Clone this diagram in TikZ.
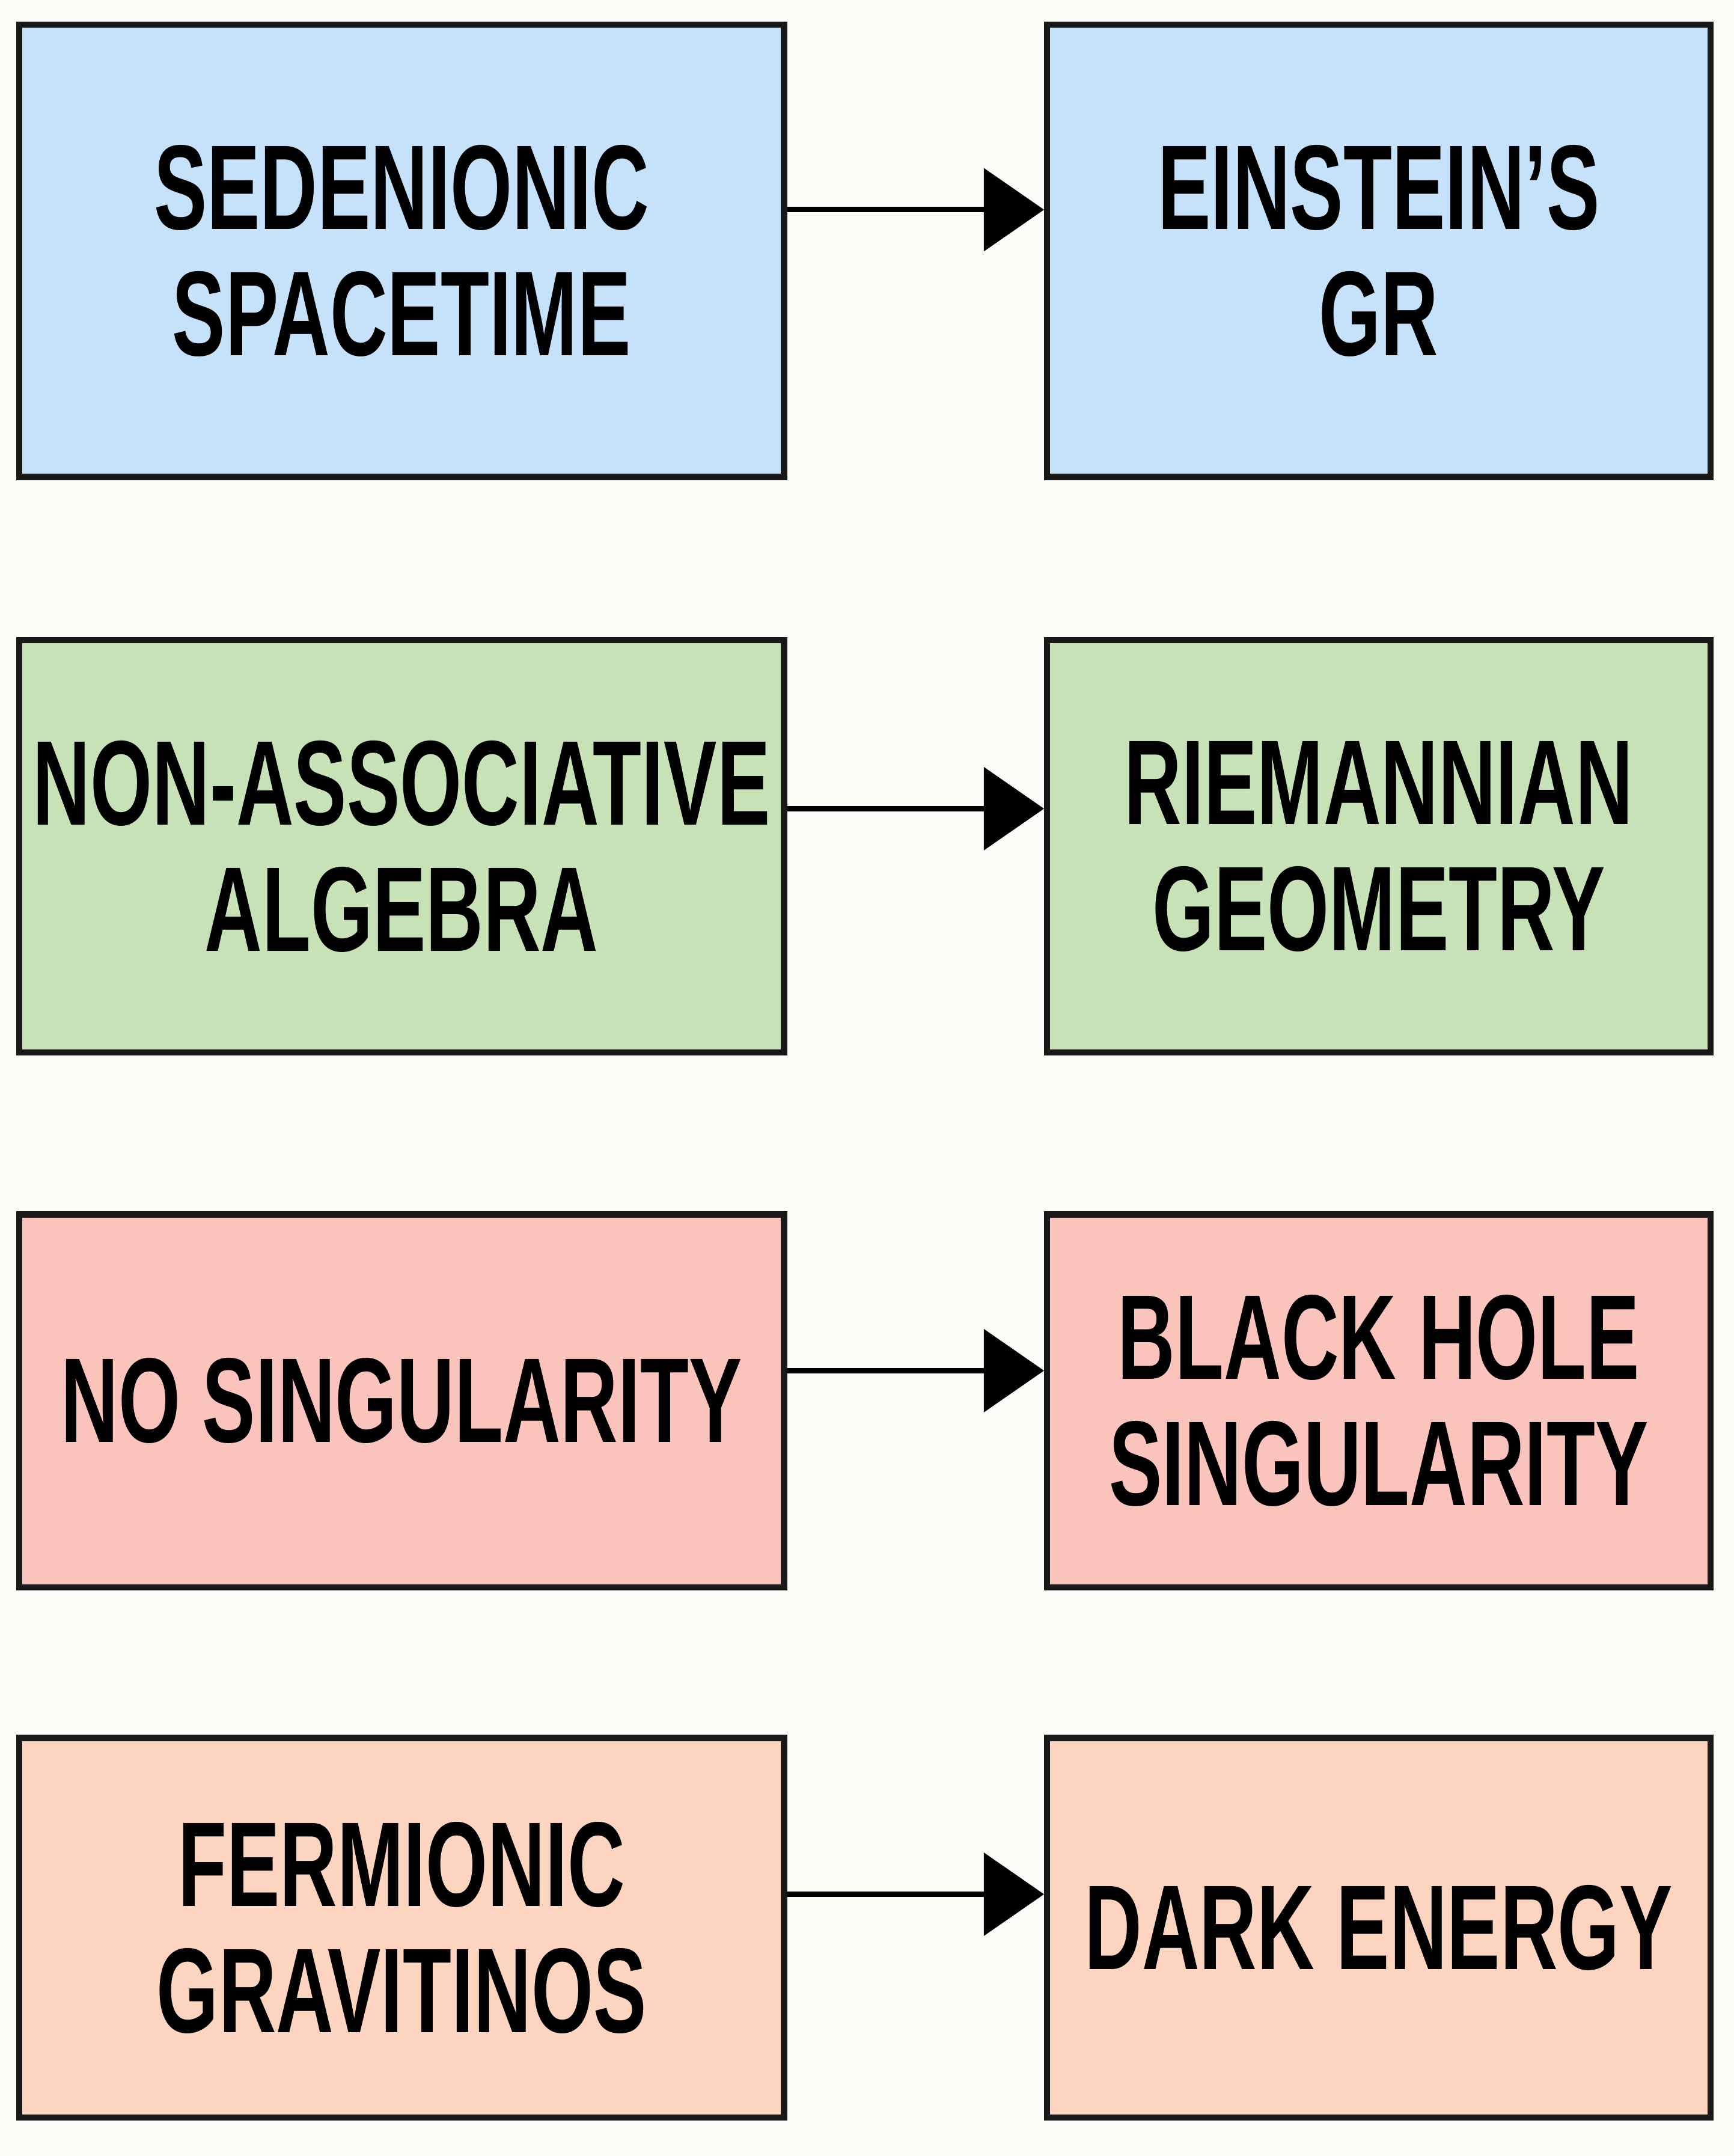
\documentclass[tikz,border=0pt]{standalone}
\usepackage{fontspec}
\setmainfont{Liberation Sans}[FakeStretch=0.66]
\usetikzlibrary{arrows.meta}
\definecolor{bluebox}{HTML}{C6E2FA}
\definecolor{greenbox}{HTML}{C8E2B8}
\definecolor{redbox}{HTML}{FAC4BC}
\definecolor{peachbox}{HTML}{FCD4C0}
\definecolor{paper}{HTML}{FBFBF8}
\tikzset{
  box/.style={draw=black!90, line width=4.5pt, rectangle, align=center,
    font=\fontsize{88}{92}\selectfont\bfseries, inner sep=0pt},
  leftbox/.style={box, minimum width=558pt},
  rightbox/.style={box, minimum width=484pt},
  link/.style={line width=4pt, -{Triangle[length=44pt,width=60pt]}}
}
\begin{document}
\begin{tikzpicture}[x=1pt,y=-1pt]
            \fill[paper] (0,0) rectangle (1265,1573);
            \useasboundingbox (0,0) rectangle (1265,1573);
            % First row
            \node[leftbox, fill=bluebox, minimum height=330pt] (sed) at (293,183) {SEDENIONIC\\SPACETIME};
            \node[rightbox, fill=bluebox, minimum height=330pt] (gr) at (1006,183) {EINSTEIN'S\\GR};
            \draw[link] (sed.east |- 0,153) -- (gr.west |- 0,153);
            % Second row
            \node[leftbox, fill=greenbox, minimum height=301pt] (nonassoc) at (293,617.5) {NON-ASSOCIATIVE\\ALGEBRA};
            \node[rightbox, fill=greenbox, minimum height=301pt] (riem) at (1006,617.5) {RIEMANNIAN\\GEOMETRY};
            \draw[link] (nonassoc.east |- 0,590) -- (riem.west |- 0,590);
            % Third row
            \node[leftbox, fill=redbox, minimum height=272pt] (nosing) at (293,1022) {NO SINGULARITY};
            \node[rightbox, fill=redbox, minimum height=272pt] (bhsing) at (1006,1022) {BLACK HOLE\\SINGULARITY};
            \draw[link] (nosing.east |- 0,1000) -- (bhsing.west |- 0,1000);
            % Fourth row
            \node[leftbox, fill=peachbox, minimum height=277pt] (ferm) at (293,1406.5) {FERMIONIC\\GRAVITINOS};
            \node[rightbox, fill=peachbox, minimum height=277pt] (dark) at (1006,1406.5) {DARK ENERGY};
            \draw[link] (ferm.east |- 0,1382) -- (dark.west |- 0,1382);
\end{tikzpicture}
\end{document}
